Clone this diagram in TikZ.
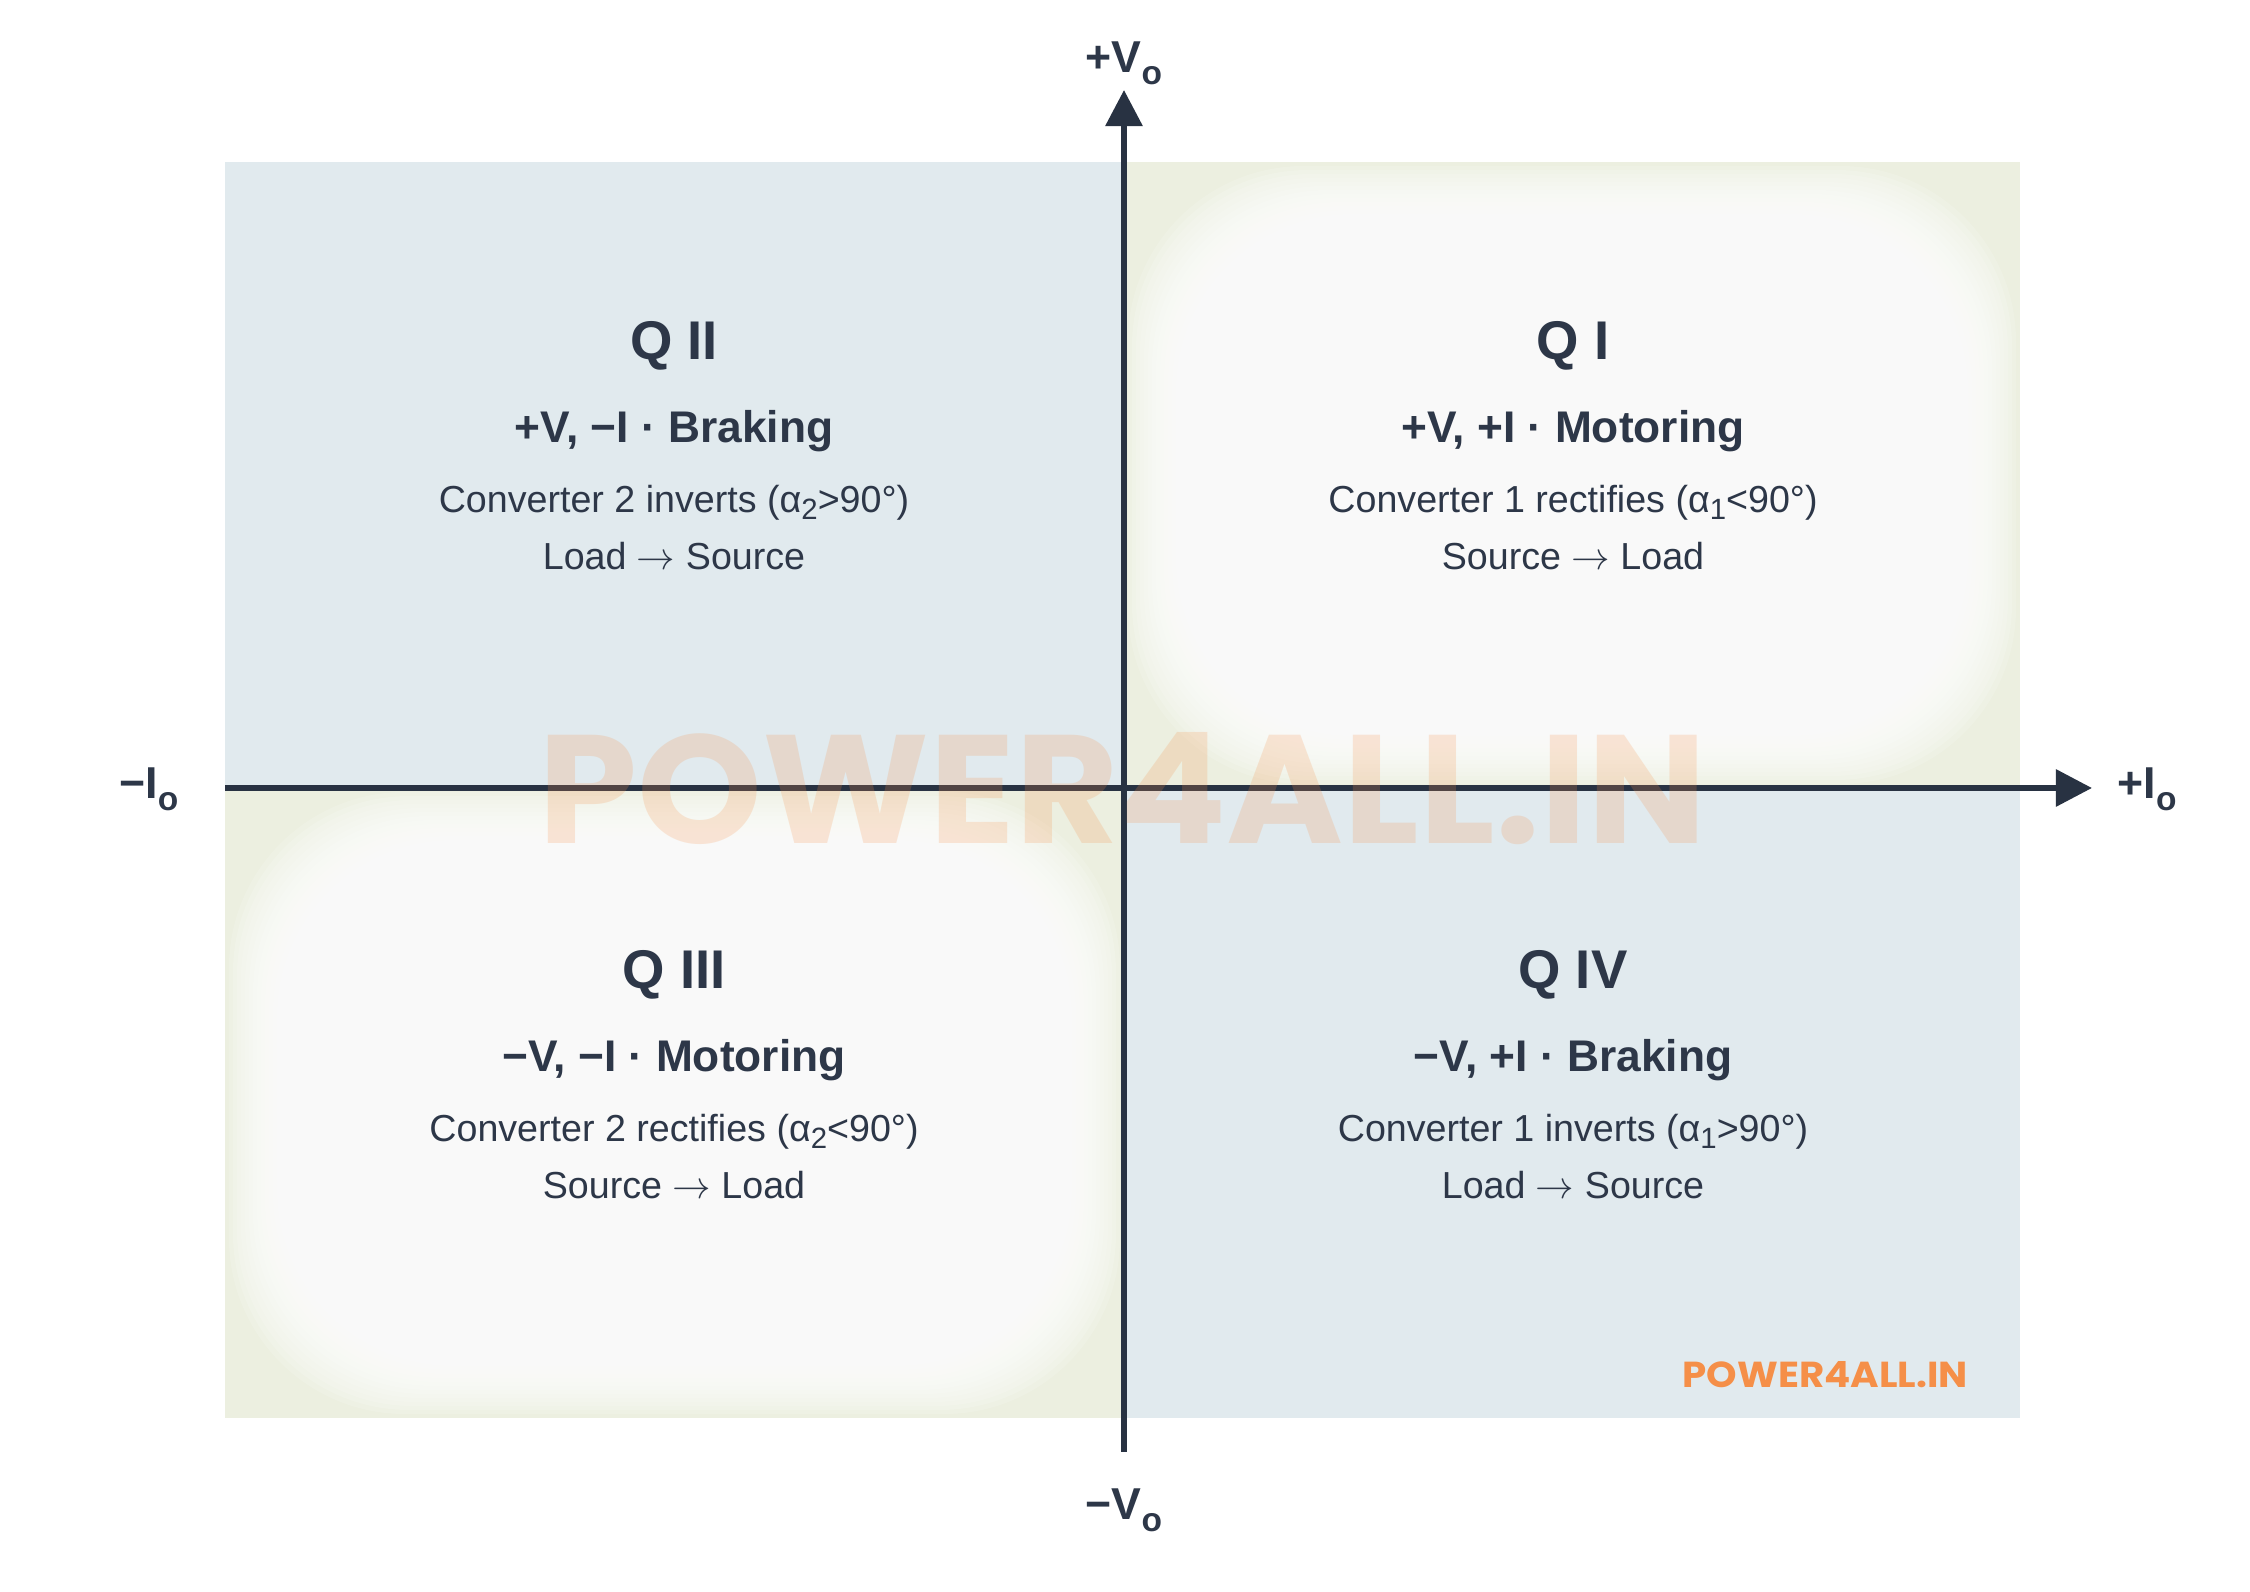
\documentclass[tikz,border=0pt]{standalone}
\usepackage{fontspec}
\usepackage{graphicx}
\setmainfont{Liberation Sans}
\newfontfamily\popfont{Poppins}
\usetikzlibrary{arrows.meta}
\definecolor{ink}{RGB}{45,55,72}
\definecolor{axisc}{RGB}{40,50,66}
\definecolor{bluebg}{RGB}{225,234,238}
\definecolor{beigebg}{RGB}{236,239,224}
\definecolor{logoor}{RGB}{245,143,72}
\newcommand\subt[1]{\raisebox{-0.35ex}{\scalebox{0.78}{#1}}}
\newcommand\axsub[1]{\raisebox{-3.4pt}{\scalebox{0.75}{#1}}}
\newcommand\flowto{ $\rightarrow$ }
\begin{document}
\begin{tikzpicture}[x=0.01cm,y=-0.01cm,
  title/.style={anchor=base,inner sep=0,text=ink,font=\fontsize{15.5}{18}\selectfont\bfseries},
  mode/.style={anchor=base,inner sep=0,text=ink,font=\fontsize{12.6}{15}\selectfont\bfseries},
  info/.style={anchor=base,inner sep=0,text=ink,font=\fontsize{10.7}{13}\selectfont},
  axlab/.style={inner sep=0,text=ink,font=\fontsize{12.7}{15}\selectfont\bfseries},
  axisline/.style={draw=axisc,line width=0.06cm,-{Triangle[length=0.36cm,width=0.36cm]}},
  softlayer/.style={fill=white,opacity=#1}]
\useasboundingbox (0,0) rectangle (2250,1592);
\fill[white] (0,0) rectangle (2250,1592);

% quadrant backgrounds
\fill[bluebg] (225,162) rectangle (1124,788);
\fill[beigebg] (1124,162) rectangle (2020,788);
\fill[beigebg] (225,788) rectangle (1124,1418);
\fill[bluebg] (1124,788) rectangle (2020,1418);
\foreach \i in {1,...,20}{
  \fill[softlayer=0.15,rounded corners=50] ({1124+\i*4},{162+\i*4}) rectangle ({2020-\i*4},{788-\i*4});
  \fill[softlayer=0.15,rounded corners=50] ({225+\i*4},{788+\i*4}) rectangle ({1124-\i*4},{1418-\i*4});
}
\foreach \i in {1,...,10}{
  \fill[softlayer=0.025,rounded corners=40] ({225+\i*9},{162+\i*9}) rectangle ({1124-\i*9},{788-\i*9});
  \fill[softlayer=0.025,rounded corners=40] ({1124+\i*9},{788+\i*9}) rectangle ({2020-\i*9},{1418-\i*9});
}

% axes
\coordinate (xl) at (225,788);
\coordinate (xr) at (2092,788);
\coordinate (yb) at (1124,1452);
\coordinate (yt) at (1124,90);
\draw[axisline] (xl) -- (xr);
\draw[axisline] (yb) -- (yt);

% axis labels
\node[axlab,anchor=base] (vp) at (1124,73) {+V\axsub{o}};
\node[axlab,anchor=base] (vm) at (1124,1520) {−V\axsub{o}};
\node[axlab,anchor=base west] (ip) at (2117,799) {+I\axsub{o}};
\node[axlab,anchor=base east] (im) at (179,799) {−I\axsub{o}};

% Q II
\node[title] (q2t) at (674,360) {Q II};
\node[mode]  (q2m) at (674,443) {+V, −I · Braking};
\node[info]  (q2c) at (674,513) {Converter 2 inverts (α\subt{2}>90°)};
\node[info]  (q2f) at (674,570) {Load\flowto Source};
% Q I
\node[title] (q1t) at (1573,360) {Q I};
\node[mode]  (q1m) at (1573,443) {+V, +I · Motoring};
\node[info]  (q1c) at (1573,513) {Converter 1 rectifies (α\subt{1}<90°)};
\node[info]  (q1f) at (1573,570) {Source\flowto Load};
% Q III
\node[title] (q3t) at (674,989) {Q III};
\node[mode]  (q3m) at (674,1072) {−V, −I · Motoring};
\node[info]  (q3c) at (674,1142) {Converter 2 rectifies (α\subt{2}<90°)};
\node[info]  (q3f) at (674,1199) {Source\flowto Load};
% Q IV
\node[title] (q4t) at (1573,989) {Q IV};
\node[mode]  (q4m) at (1573,1072) {−V, +I · Braking};
\node[info]  (q4c) at (1573,1142) {Converter 1 inverts (α\subt{1}>90°)};
\node[info]  (q4f) at (1573,1199) {Load\flowto Source};

% watermark
\node[anchor=base west,inner sep=0,text=logoor,text opacity=0.2] (wm) at (538,844)
  {\resizebox{11.67cm}{1.11cm}{\popfont\bfseries POWER4ALL.IN}};
\node[anchor=base west,inner sep=0,text=logoor] (logo) at (1682,1388)
  {\resizebox{2.85cm}{0.26cm}{\popfont\bfseries POWER4ALL.IN}};
\end{tikzpicture}
\end{document}
